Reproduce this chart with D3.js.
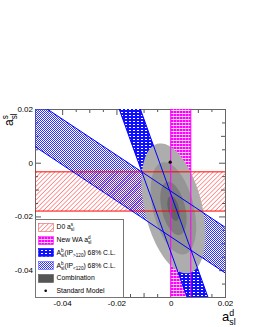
<!DOCTYPE html>
<html>
<head>
<meta charset="utf-8">
<script src="https://cdn.jsdelivr.net/npm/d3@7"></script>
<style>
body { margin: 0; background: #fff; }
text { font-family: "Liberation Sans", Arial, sans-serif; }
</style>
</head>
<body>
<div id="chart"></div>
<script>
// axis ranges and ticks
var xDomain = [-0.05, 0.02];
var yDomain = [-0.05, 0.02];
var majorTicks = [-0.04, -0.02, 0, 0.02];
var midTicks = [-0.05, -0.03, -0.01, 0.01];
var minorTicks = [-0.045, -0.035, -0.025, -0.015, -0.005, 0.005, 0.015];

// measurements
var d0Band = [-0.0180, -0.0034];          // D0 a_sl^s (horizontal band)
var waBand = [0.0000, 0.0074];            // New WA a_sl^d (vertical band)
// band edges as [a_d, a_s] end points
var ipHighEdges = [[[-0.0190, 0.02], [0.0060, -0.05]], [[-0.0112, 0.02], [0.0137, -0.05]]];
var ipLowEdges = [[[-0.05, 0.0230], [0.02, -0.0240]], [[-0.05, 0.0060], [0.02, -0.0410]]];
// combination contours
var comboCenter = [0.0010, -0.0170];
var comboHalf = [0.0118, 0.0242];
var comboRho = -0.4;
var comboScales = [1, 0.71, 0.41, 0.19];
var comboColors = ['#adadad', '#959595', '#7c7c7c', '#646464'];
var smPoint = [-0.0002, 0.0002];

var legendLabels = [
    ['D0 a', {sub: 'sl', sup: 's'}],
    ['New WA a', {sub: 'sl', sup: 'd'}],
    ['A', {sub: 'sl', sup: 'b'}, '(IP', {sub: '>120'}, ') 68% C.L.'],
    ['A', {sub: 'sl', sup: 'b'}, '(IP', {sub: '<120'}, ') 68% C.L.'],
    ['Combination'],
    ['Standard Model']
];

var W = 253, H = 327;
var svg = d3.select('#chart').append('svg').attr('width', W).attr('height', H);
var x = d3.scaleLinear().domain(xDomain).range([35, 225]);
var y = d3.scaleLinear().domain(yDomain).range([297, 109]);

// patterns
var defs = svg.append('defs');
var p = defs.append('pattern').attr('id', 'pRed').attr('patternUnits', 'userSpaceOnUse')
    .attr('width', 3.2).attr('height', 3.2).attr('patternTransform', 'rotate(45)');
p.append('line').attr('x1', 0).attr('y1', 0).attr('x2', 0).attr('y2', 3.2)
    .attr('stroke', '#ff2020').attr('stroke-width', 0.9);

p = defs.append('pattern').attr('id', 'pMag').attr('patternUnits', 'userSpaceOnUse')
    .attr('width', 3).attr('height', 3);
p.append('rect').attr('width', 3).attr('height', 3).attr('fill', '#ff00ff');
p.append('rect').attr('y', 2).attr('width', 3).attr('height', 1).attr('fill', '#fff').attr('opacity', 0.85);
p.append('rect').attr('x', 2).attr('width', 1).attr('height', 2).attr('fill', '#fff').attr('opacity', 0.4);

p = defs.append('pattern').attr('id', 'pBlueDark').attr('patternUnits', 'userSpaceOnUse')
    .attr('width', 4).attr('height', 3);
p.append('rect').attr('width', 4).attr('height', 3).attr('fill', '#1010ff');
p.append('rect').attr('x', 1).attr('y', 1).attr('width', 2).attr('height', 1).attr('fill', '#fff');

p = defs.append('pattern').attr('id', 'pBlueLight').attr('patternUnits', 'userSpaceOnUse')
    .attr('width', 2).attr('height', 2);
p.append('rect').attr('width', 1).attr('height', 1).attr('fill', '#3030ff');
p.append('rect').attr('x', 1).attr('y', 1).attr('width', 1).attr('height', 1).attr('fill', '#3030ff');

defs.append('clipPath').attr('id', 'frameClip').append('rect')
    .attr('x', 35).attr('y', 109).attr('width', 191).attr('height', 189);

var fmt = function(d) { return d === 0 ? '0' : d.toFixed(2); };

// axes (drawn first, bands sit on top like the original)
function addAxis(axis, tr, labels) {
    var g = svg.append('g').attr('transform', tr).call(axis);
    g.select('.domain').remove();
    g.selectAll('line').attr('stroke', '#555');
    g.selectAll('text').attr('font-size', 8).attr('fill', '#000')
        .style('font-family', '"Liberation Sans", Arial, sans-serif');
    if (!labels) g.selectAll('text').remove();
    return g;
}
addAxis(d3.axisBottom(x).tickValues(majorTicks).tickSize(-6).tickPadding(3).tickFormat(fmt), 'translate(0,297)', true);
addAxis(d3.axisBottom(x).tickValues(midTicks).tickSize(-4), 'translate(0,297)');
addAxis(d3.axisBottom(x).tickValues(minorTicks).tickSize(-3), 'translate(0,297)');
addAxis(d3.axisTop(x).tickValues(majorTicks).tickSize(-6), 'translate(0,109)');
addAxis(d3.axisTop(x).tickValues(midTicks).tickSize(-4), 'translate(0,109)');
addAxis(d3.axisTop(x).tickValues(minorTicks).tickSize(-3), 'translate(0,109)');
addAxis(d3.axisLeft(y).tickValues(majorTicks).tickSize(-6).tickPadding(2).tickFormat(fmt), 'translate(35,0)', true);
addAxis(d3.axisLeft(y).tickValues(midTicks).tickSize(-4), 'translate(35,0)');
addAxis(d3.axisLeft(y).tickValues(minorTicks).tickSize(-3), 'translate(35,0)');
addAxis(d3.axisRight(y).tickValues(majorTicks).tickSize(-6), 'translate(225,0)');
addAxis(d3.axisRight(y).tickValues(midTicks).tickSize(-4), 'translate(225,0)');
addAxis(d3.axisRight(y).tickValues(minorTicks).tickSize(-3), 'translate(225,0)');

svg.append('rect').attr('x', 35.5).attr('y', 109.5).attr('width', 190).attr('height', 188)
    .attr('fill', 'none').attr('stroke', '#666').attr('stroke-width', 1);

var plot = svg.append('g').attr('clip-path', 'url(#frameClip)');
var line = d3.line().x(function(d) { return x(d[0]); }).y(function(d) { return y(d[1]); });

function bandPoly(edges) { return edges[0].concat(edges[1].slice().reverse()); }
var d0Poly = [[xDomain[0], d0Band[0]], [xDomain[1], d0Band[0]], [xDomain[1], d0Band[1]], [xDomain[0], d0Band[1]]];
var waPoly = [[waBand[0], yDomain[0]], [waBand[1], yDomain[0]], [waBand[1], yDomain[1]], [waBand[0], yDomain[1]]];

plot.append('path').attr('d', line(waPoly) + 'Z').attr('fill', 'url(#pMag)');
plot.append('path').attr('d', line(bandPoly(ipLowEdges)) + 'Z').attr('fill', 'url(#pBlueLight)');
plot.append('path').attr('d', line(bandPoly(ipHighEdges)) + 'Z').attr('fill', 'url(#pBlueDark)');
plot.append('path').attr('d', line(d0Poly) + 'Z').attr('fill', 'url(#pRed)');

// combination contours
var angles = d3.range(0, 360, 4);
var sq = Math.sqrt(1 - comboRho * comboRho);
comboScales.forEach(function(s, i) {
    var pts = angles.map(function(a) {
        var t = a * Math.PI / 180;
        return [comboCenter[0] + s * comboHalf[0] * Math.cos(t),
                comboCenter[1] + s * comboHalf[1] * (comboRho * Math.cos(t) + sq * Math.sin(t))];
    });
    plot.append('path').attr('d', line.curve(d3.curveLinearClosed)(pts)).attr('fill', comboColors[i]);
});
line.curve(d3.curveLinear);

// band edges on top
[d0Band[0], d0Band[1]].forEach(function(v) {
    plot.append('path').attr('d', line([[xDomain[0], v], [xDomain[1], v]]))
        .attr('stroke', '#ff0000').attr('stroke-width', 1).attr('fill', 'none');
});
[waBand[0], waBand[1]].forEach(function(v) {
    plot.append('path').attr('d', line([[v, yDomain[0]], [v, yDomain[1]]]))
        .attr('stroke', '#ff00ff').attr('stroke-width', 1).attr('fill', 'none');
});
ipHighEdges.concat(ipLowEdges).forEach(function(e) {
    plot.append('path').attr('d', line(e))
        .attr('stroke', '#0000ff').attr('stroke-width', 1).attr('fill', 'none');
});

svg.append('circle').attr('cx', x(smPoint[0])).attr('cy', y(smPoint[1])).attr('r', 1.6).attr('fill', '#000');

// text with stacked sub/superscripts
function rich(t, parts, size) {
    var off = 0, pad = 0;
    var small = size * 0.68;
    parts.forEach(function(part) {
        if (typeof part === 'string') {
            t.append('tspan').attr('dy', -off).attr('dx', pad).attr('font-size', size).text(part);
            off = 0; pad = 0;
            return;
        }
        var sub = t.append('tspan').attr('font-size', small).attr('dy', size * 0.3 - off).text(part.sub);
        off = size * 0.3;
        if (part.sup) {
            var ws = sub.node().getComputedTextLength();
            var sup = t.append('tspan').attr('font-size', small).attr('dx', -ws).attr('dy', -size * 0.72).text(part.sup);
            off = size * 0.3 - size * 0.72;
            pad = Math.max(0, ws - sup.node().getComputedTextLength());
        }
    });
}

// axis titles
rich(svg.append('text').attr('transform', 'translate(13,126) rotate(-90)'), ['a', {sub: 'sl', sup: 's'}], 12);
rich(svg.append('text').attr('transform', 'translate(222,321)'), ['a', {sub: 'sl', sup: 'd'}], 13);

// legend
var lg = svg.append('g');
lg.append('rect').attr('x', 35.5).attr('y', 219.5).attr('width', 88).attr('height', 78)
    .attr('fill', '#fff').attr('stroke', '#777').attr('stroke-width', 1);
var legendFill = ['url(#pRed)', 'url(#pMag)', 'url(#pBlueDark)', 'url(#pBlueLight)', '#555'];
var legendStroke = ['#e06060', '#ff00ff', '#0000ff', '#6060ff', '#555'];
legendLabels.forEach(function(lab, i) {
    var cy = 226.7 + i * 12.8;
    if (i < 5) {
        lg.append('rect').attr('x', 38.5).attr('y', Math.round(cy - 4) + 0.5).attr('width', 15).attr('height', 8)
            .attr('fill', legendFill[i]).attr('stroke', legendStroke[i]).attr('stroke-width', 0.6);
    } else {
        lg.append('circle').attr('cx', 45.7).attr('cy', cy).attr('r', 1.3).attr('fill', '#000');
    }
    rich(lg.append('text').attr('x', 56.5).attr('y', cy + 2.5), lab, 6.8);
});
</script>
</body>
</html>
